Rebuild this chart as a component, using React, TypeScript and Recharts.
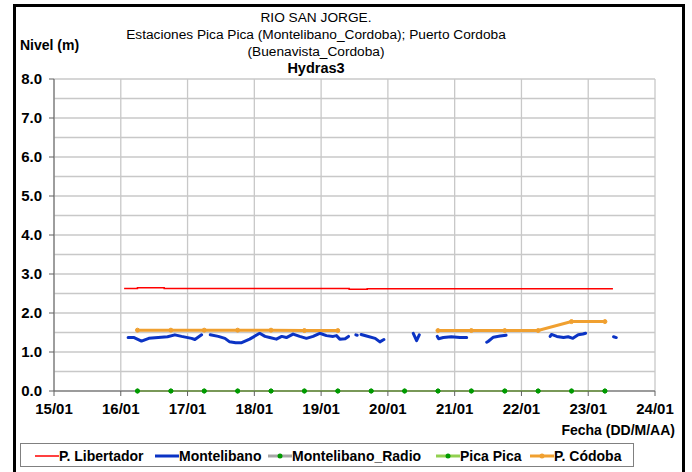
import { LineChart, Line, XAxis, YAxis, CartesianGrid, ReferenceLine } from "recharts";

const font = '"Liberation Sans", Arial, sans-serif';

// x values are days of January
const dayTicks = [15, 16, 17, 18, 19, 20, 21, 22, 23, 24];
const levelTicks = [0, 1, 2, 3, 4, 5, 6, 7, 8];
const halfLevels = [0.5, 1.5, 2.5, 3.5, 4.5, 5.5, 6.5, 7.5];

const libDays = [16.05, 16.25, 16.65, 19.42, 19.69, 23.37];
const libLevels = [2.63, 2.65, 2.63, 2.61, 2.62, 2.62];

const monteDays = [
  16.11, 16.2, 16.31, 16.42, 16.56, 16.7, 16.81, 16.91, 17.06, 17.11, 17.21, 17.27,
  17.34, 17.46, 17.56, 17.63, 17.72, 17.81, 17.93, 18.08, 18.16, 18.23, 18.33, 18.41,
  18.48, 18.58, 18.68, 18.78, 18.88, 18.98, 19.08, 19.18, 19.23, 19.28, 19.36, 19.41, 19.47,
  19.52, 19.54, 19.56,
  19.6, 19.68, 19.81, 19.88, 19.94, 20.1,
  20.38, 20.43, 20.47, 20.6,
  20.74, 20.76, 20.83, 20.95, 21.08, 21.18, 21.3,
  21.48, 21.5, 21.58, 21.68, 21.77, 22.1,
  22.43, 22.45, 22.53, 22.63, 22.7, 22.77, 22.85, 22.92, 22.96, 23.2,
  23.38, 23.42,
];
const monteLevels = [
  1.37, 1.37, 1.28, 1.35, 1.37, 1.39, 1.44, 1.4, 1.35, 1.32, 1.44, null,
  1.44, 1.4, 1.35, 1.26, 1.24, 1.24, 1.33, 1.48, 1.4, 1.37, 1.33, 1.4,
  1.37, 1.46, 1.4, 1.35, 1.4, 1.48, 1.42, 1.4, 1.42, 1.33, 1.34, 1.4, null,
  1.44, 1.43, null,
  1.45, 1.41, 1.35, 1.26, 1.32, null,
  1.48, 1.29, 1.44, null,
  1.4, 1.34, 1.37, 1.39, 1.37, 1.37, null,
  1.25, 1.27, 1.38, 1.41, 1.43, null,
  1.4, 1.45, 1.4, 1.37, 1.39, 1.35, 1.44, 1.46, 1.48, null,
  1.39, 1.37,
];

const picaDays = [16.25, 16.75, 17.25, 17.75, 18.25, 18.75, 19.25, 19.75, 20.25, 20.75, 21.25, 21.75, 22.25, 22.75, 23.25];
const picaLevels = [0, 0, 0, 0, 0, 0, 0, 0, 0, 0, 0, 0, 0, 0, 0];
const radioDays = [16.25, 16.75, 17.25, 17.75, 18.25, 18.75, 19.25, 19.75, 20.25, 20.75, 21.25, 21.75, 22.25, 22.75, 23.25];
const radioLevels = [0, 0, 0, 0, 0, 0, 0, 0, 0, 0, 0, 0, 0, 0, 0];

const cordDays = [16.25, 16.75, 17.25, 17.75, 18.25, 18.75, 19.25, 20, 20.75, 21.25, 21.75, 22.25, 22.75, 23.25];
const cordLevels = [1.56, 1.56, 1.56, 1.56, 1.56, 1.55, 1.55, null, 1.55, 1.55, 1.55, 1.55, 1.78, 1.78];

const zip = (days: number[], levels: (number | null)[]) =>
  days.map((d, i) => ({ day: d, v: levels[i] }));

const legendItems = [
  { name: "P. Libertador", color: "#FF0000", width: 1.5, dot: null, x: 14 },
  { name: "Montelibano", color: "#0B33C4", width: 3, dot: null, x: 134 },
  { name: "Montelibano_Radio", color: "#A6A6A6", width: 3, dot: "#009A00", x: 247 },
  { name: "Pica Pica", color: "#92D050", width: 3, dot: "#009A00", x: 415 },
  { name: "P. Códoba", color: "#F0A030", width: 3, dot: "#F0A030", x: 509 },
];

export default function App() {
  const tickStyle = { fill: "#000", fontSize: 15, fontWeight: "bold", fontFamily: font };
  const greenDot = { r: 2, fill: "#009A00", stroke: "#009A00", strokeWidth: 1 };
  return (
    <div style={{ position: "fixed", left: 0, top: 0, width: 692, height: 472, background: "#fff", overflow: "hidden", fontFamily: font }}>
      <div style={{ position: "absolute", left: 13, top: 4, width: 672, height: 490, border: "3px solid #000", boxSizing: "border-box" }} />
      <div style={{ position: "absolute", left: 0, width: 632, top: 9, textAlign: "center", fontSize: 13.7, lineHeight: "17px", color: "#000" }}>
        <div>RIO SAN JORGE.</div>
        <div>Estaciones Pica Pica (Montelibano_Cordoba); Puerto Cordoba</div>
        <div>(Buenavista_Cordoba)</div>
        <div style={{ fontWeight: "bold", fontSize: 14.5 }}>Hydras3</div>
      </div>
      <div style={{ position: "absolute", left: 20, top: 37, fontSize: 14, fontWeight: "bold" }}>Nivel (m)</div>
      <div style={{ position: "absolute", right: 17, top: 422, fontSize: 14, fontWeight: "bold" }}>Fecha (DD/M/AA)</div>

      <LineChart width={692} height={472} margin={{ top: 79, right: 37, bottom: 51, left: 0 }} style={{ position: "absolute", left: 0, top: 0 }}>
        <CartesianGrid stroke="#C8C8C8" strokeWidth={1.3} />
        {halfLevels.map((h) => (
          <ReferenceLine key={h} y={h} stroke="#C8C8C8" strokeWidth={1.3} />
        ))}
        <XAxis
          type="number"
          dataKey="day"
          domain={[15, 24]}
          ticks={dayTicks}
          tickFormatter={(d) => `${d}/01`}
          stroke="#606060"
          tickSize={5}
          tickMargin={7}
          height={30}
          tick={tickStyle}
          allowDataOverflow
        />
        <YAxis
          type="number"
          domain={[0, 8]}
          ticks={levelTicks}
          tickFormatter={(v) => v.toFixed(1)}
          stroke="#606060"
          tickSize={5}
          tickMargin={7}
          width={54}
          tick={tickStyle}
        />
        <Line data={zip(radioDays, radioLevels)} dataKey="v" stroke="#A6A6A6" strokeWidth={2} dot={greenDot} isAnimationActive={false} />
        <Line data={zip(picaDays, picaLevels)} dataKey="v" stroke="#92D050" strokeWidth={2} dot={greenDot} isAnimationActive={false} />
        <Line data={zip(libDays, libLevels)} dataKey="v" type="stepAfter" stroke="#FF0000" strokeWidth={1.5} dot={false} isAnimationActive={false} />
        <Line data={zip(monteDays, monteLevels)} dataKey="v" stroke="#0B33C4" strokeWidth={3} dot={false} strokeLinecap="round" strokeLinejoin="round" isAnimationActive={false} />
        <Line data={zip(cordDays, cordLevels)} dataKey="v" stroke="#F0A030" strokeWidth={3} dot={{ r: 2, fill: "#F0A030", stroke: "#F0A030", strokeWidth: 1 }} isAnimationActive={false} />
      </LineChart>

      <div style={{ position: "absolute", left: 20, top: 443, width: 614, height: 24, border: "1px solid #808080", boxSizing: "border-box" }}>
        {legendItems.map((it) => (
          <div key={it.name} style={{ position: "absolute", left: it.x, top: 2, height: 19, display: "flex", alignItems: "center", fontSize: 14, fontWeight: "bold", whiteSpace: "nowrap" }}>
            <svg width={24} height={10}>
              <line x1={0} y1={5} x2={24} y2={5} stroke={it.color} strokeWidth={it.width} />
              {it.dot && <circle cx={12} cy={5} r={2.5} fill={it.dot} />}
            </svg>
            <span>{it.name}</span>
          </div>
        ))}
      </div>
    </div>
  );
}
